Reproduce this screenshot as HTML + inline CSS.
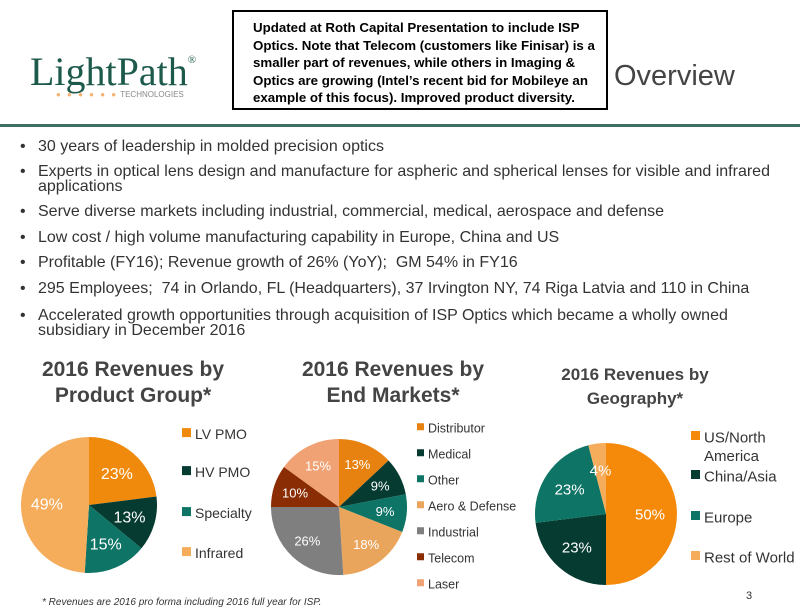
<!DOCTYPE html>
<html><head><meta charset="utf-8">
<style>
body{margin:0;width:800px;height:614px;background:#fff;font-family:"Liberation Sans",sans-serif;position:relative;overflow:hidden;color:#333}
.abs{position:absolute;white-space:nowrap}
.b{position:absolute;left:20px;font-size:16px;color:#333;line-height:15px;white-space:nowrap}
.b span{position:absolute;left:18px;top:0;white-space:nowrap}
.t{position:absolute;font-weight:bold;color:#444;text-align:center;line-height:26px}
</style></head><body>
<div class="abs" style="left:30px;top:48px;font-family:'Liberation Serif',serif;font-size:40px;color:#1d5a4c">LightPath<sup style="font-size:11px;vertical-align:top;position:relative;top:6px">®</sup></div>
<div class="abs" style="left:56px;top:90px;font-size:8px;color:#888"><span style="color:#f6b070;letter-spacing:2px">● ● ● ● ● ●</span> TECHNOLOGIES</div>
<div class="abs" style="left:232px;top:10px;width:376px;height:100px;border:2.5px solid #000;background:#fff;font-weight:bold;font-size:13.3px;line-height:17.5px;color:#000;white-space:normal;padding:7px 0 0 19px;box-sizing:border-box">Updated at Roth Capital Presentation to include ISP Optics. Note that Telecom (customers like Finisar) is a smaller part of revenues, while others in Imaging &amp; Optics are growing (Intel’s recent bid for Mobileye an example of this focus). Improved product diversity.</div>
<div class="abs" style="left:614px;top:60px;font-size:29px;color:#444">Overview</div>
<div class="abs" style="left:0;top:124px;width:800px;height:3px;background:#3f6e63"></div>

<div class="b" style="top:139px">•<span>30 years of leadership in molded precision optics</span></div>
<div class="b" style="top:164px">•<span>Experts in optical lens design and manufacture for aspheric and spherical lenses for visible and infrared<br>applications</span></div>
<div class="b" style="top:204px">•<span>Serve diverse markets including industrial, commercial, medical, aerospace and defense</span></div>
<div class="b" style="top:230px">•<span>Low cost / high volume manufacturing capability in Europe, China and US</span></div>
<div class="b" style="top:255px">•<span>Profitable (FY16); Revenue growth of 26% (YoY);&nbsp; GM 54% in FY16</span></div>
<div class="b" style="top:281px">•<span>295 Employees;&nbsp; 74 in Orlando, FL (Headquarters), 37 Irvington NY, 74 Riga Latvia and 110 in China</span></div>
<div class="b" style="top:308px">•<span>Accelerated growth opportunities through acquisition of ISP Optics which became a wholly owned<br>subsidiary in December 2016</span></div>

<div class="t" style="left:13px;top:357px;width:240px;font-size:21px">2016 Revenues by<br>Product Group*</div>
<div class="t" style="left:273px;top:357px;width:240px;font-size:21px">2016 Revenues by<br>End Markets*</div>
<div class="t" style="left:525px;top:363px;width:220px;font-size:17px;line-height:24px">2016 Revenues by<br>Geography*</div>

<svg id="pies" width="800" height="614" style="position:absolute;left:0;top:0"></svg>

<div class="abs" style="left:42px;top:597px;font-size:10px;font-style:italic;color:#333">* Revenues are 2016 pro forma including 2016 full year for ISP.</div>
<div class="abs" style="left:746px;top:590px;font-size:11px;color:#333">3</div>

<script>
const productLabels=["LV PMO","HV PMO","Specialty","Infrared"];
const productValues=[23,13,15,49];
const marketLabels=["Distributor","Medical","Other","Aero & Defense","Industrial","Telecom","Laser"];
const marketValues=[13,9,9,18,26,10,15];
const geoLabels=["US/North America","China/Asia","Europe","Rest of World"];
const geoValues=[50,23,23,4];

const NS="http://www.w3.org/2000/svg";
const svg=document.getElementById('pies');
function mk(tag,attrs){const e=document.createElementNS(NS,tag);for(const k in attrs)e.setAttribute(k,attrs[k]);svg.appendChild(e);return e;}
function pie(name,vals,colors,cx,cy,r,fs,lr){
  const tot=vals.reduce((a,b)=>a+b,0);let a0=0;
  vals.forEach((v,i)=>{
    const a1=a0+v/tot*2*Math.PI;
    const x0=cx+r*Math.sin(a0),y0=cy-r*Math.cos(a0),x1=cx+r*Math.sin(a1),y1=cy-r*Math.cos(a1);
    const p=mk('path',{d:`M${cx},${cy}L${x0},${y0}A${r},${r} 0 ${a1-a0>Math.PI?1:0} 1 ${x1},${y1}Z`,fill:colors[i]});
    
    
    const am=(a0+a1)/2;
    const t=mk('text',{x:cx+r*lr*Math.sin(am),y:cy-r*lr*Math.cos(am)+fs*0.36,'text-anchor':'middle','font-size':fs,fill:'#fff','font-family':'Liberation Sans, sans-serif'});
    
    
    t.textContent=v+'%';
    a0=a1;
  });
}
function legend(name,labels,colors,x,ys,fs,sq){
  labels.forEach((l,i)=>{
    const r=mk('rect',{x:x,y:ys[i]-sq/2-fs*0.1,width:sq,height:sq,fill:colors[i]});
    
    
    const parts=Array.isArray(l)?l:[l];
    parts.forEach((pt,j)=>{
      const t=mk('text',{x:x+sq+4,y:ys[i]+fs*0.35+j*fs*1.25,'font-size':fs,fill:'#333','font-family':'Liberation Sans, sans-serif'});
      
      
      t.textContent=pt;
    });
  });
}
const c1=["#f08a0c","#063b31","#0d7466","#f5ad5c"];
const c2=["#e7810f","#063b31","#0d7466","#e9a55b","#7f7f7f","#8a2d05","#f0a274"];
const c3=["#f58a0a","#063b31","#0d7466","#f5ad5c"];
pie('product',productValues,c1,89,505,68,16,0.62);
pie('markets',marketValues,c2,339,507,68,13,0.68);
pie('geo',geoValues,c3,606,514,71,15,0.62);
legend('product',productLabels,c1,182,[434,472,513,553],14,9);
legend('markets',marketLabels,c2,417,[428,454,480,506,532,558,584],12.5,7);
legend('geo',[["US/North","America"],"China/Asia","Europe","Rest of World"],c3,691,[437,476,517,557],15,9);
</script>
</body></html>
